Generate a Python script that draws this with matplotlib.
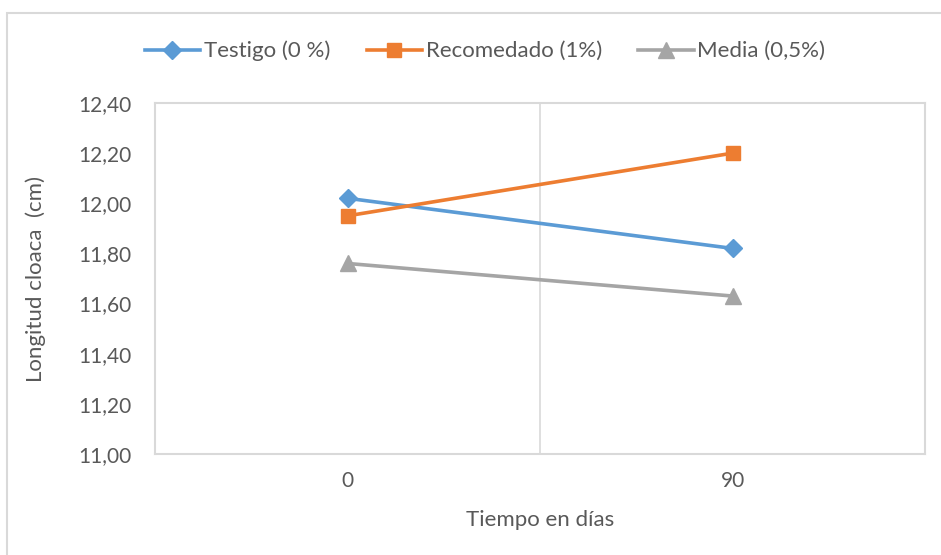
import matplotlib.pyplot as plt
from matplotlib.patches import Rectangle

plt.rcParams['font.family'] = ['Lato', 'DejaVu Sans']

# datos: longitud de cloaca por tratamiento
dias = ["0", "90"]
testigo = [12.02, 11.82]
recomendado = [11.95, 12.20]
media = [11.76, 11.63]
y_ticks = [11.00, 11.20, 11.40, 11.60, 11.80, 12.00, 12.20, 12.40]

texto = "#595959"
borde = "#d9d9d9"

fig = plt.figure(figsize=(9.41, 5.55), dpi=100)
ax = fig.add_axes([155 / 941, 1 - 454 / 555, 770 / 941, 351 / 555])

# marco exterior del grafico
fig.patches.append(Rectangle((7 / 941, -0.1), 1.1, 1 - 13 / 555 + 0.1,
                             transform=fig.transFigure, fill=False,
                             edgecolor=borde, linewidth=1.5))

x = range(len(dias))
ax.plot(x, testigo, color="#5B9BD5", linewidth=2.6, marker="D", markersize=9,
        label="Testigo (0 %)")
ax.plot(x, recomendado, color="#ED7D31", linewidth=2.6, marker="s", markersize=10,
        label="Recomedado (1%)")
ax.plot(x, media, color="#A5A5A5", linewidth=2.6, marker="^", markersize=11,
        label="Media (0,5%)")

ax.set_xlim(-0.5, 1.5)
ax.set_ylim(11.0, 12.4)
ax.set_xticks(list(x))
ax.set_xticklabels(dias)
ax.set_yticks(y_ticks)
ax.set_yticklabels([f"{v:.2f}".replace(".", ",") for v in y_ticks])
ax.axvline(0.5, color=borde, linewidth=1.2, zorder=0)

ax.tick_params(length=0, labelsize=15, labelcolor=texto)
ax.tick_params(axis="y", pad=17)
ax.tick_params(axis="x", pad=12)
for s in ax.spines.values():
    s.set_color(borde)
    s.set_linewidth(1.5)

ax.set_xlabel("Tiempo en días", fontsize=16, color=texto, labelpad=14)
ax.set_ylabel("Longitud cloaca  (cm)", fontsize=16, color=texto, labelpad=23)

fig.legend(loc="center", bbox_to_anchor=(485 / 941, 1 - 51 / 555), ncol=3,
           frameon=False, fontsize=16, labelcolor=texto, handlelength=2.5,
           handletextpad=0.15, columnspacing=1.65)

fig.savefig("out.png", dpi=100)
